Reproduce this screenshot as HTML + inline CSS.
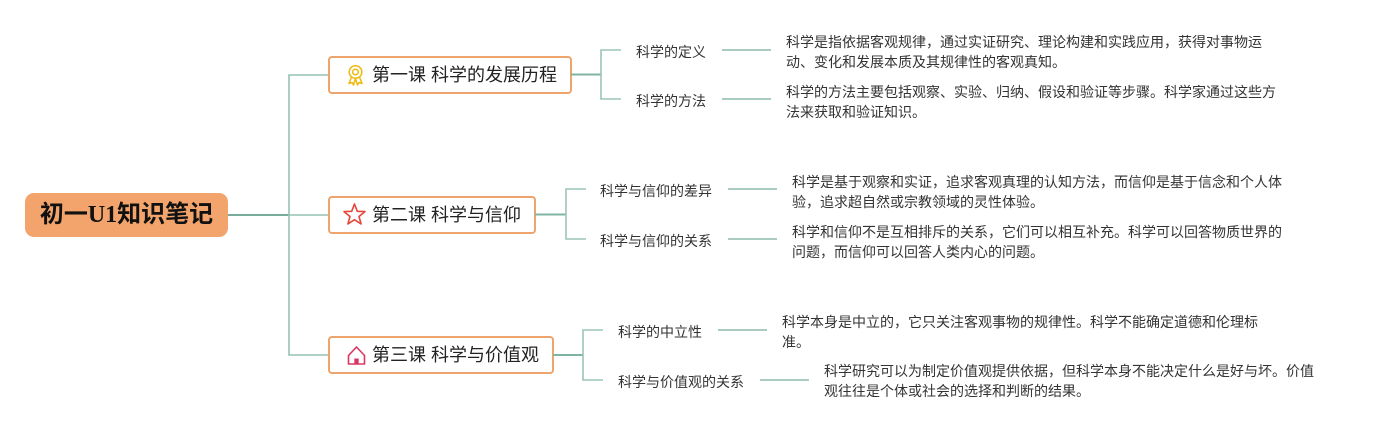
<!DOCTYPE html>
<html>
<head>
<meta charset="utf-8">
<style>
  html, body { margin:0; padding:0; background:#ffffff; }
  body { width:1384px; height:430px; position:relative; overflow:hidden;
         font-family:"Liberation Sans","Noto Sans CJK SC",sans-serif; }
  svg { position:absolute; left:0; top:0; }
  .t { position:absolute; white-space:nowrap; }
  .root { left:25px; top:193px; width:203px; height:44px; line-height:44px; text-align:center;
          font-family:"Liberation Serif","Noto Sans CJK SC",serif; font-weight:bold; font-size:24px; color:#111; }
  .box { font-size:18px; color:#222; height:36px; line-height:36px; left:372px; }
  .lab { font-size:14px; color:#333; height:20px; line-height:20px; }
  .desc { font-size:14px; color:#333; line-height:20px; }
</style>
</head>
<body>
<svg width="1384" height="430" viewBox="0 0 1384 430">
  <!-- root -->
  <rect x="25" y="193" width="203" height="44" rx="9" ry="9" fill="#f3a46c"/>
  <line x1="228" y1="215" x2="289" y2="215" stroke="#78ad9b" stroke-width="2"/>
  <!-- trunk -->
  <path d="M329 75 H289 V355 H329" fill="none" stroke="#96c2b2" stroke-width="1.6"/>
  <line x1="289" y1="215" x2="329" y2="215" stroke="#96c2b2" stroke-width="1.6"/>

  <!-- boxes -->
  <rect x="329" y="57" width="242" height="36" rx="3" fill="#fff" stroke="#eda46d" stroke-width="2"/>
  <rect x="329" y="197" width="206" height="36" rx="3" fill="#fff" stroke="#eda46d" stroke-width="2"/>
  <rect x="329" y="337" width="224" height="36" rx="3" fill="#fff" stroke="#eda46d" stroke-width="2"/>

  <!-- box1 branches -->
  <line x1="571" y1="74.5" x2="601" y2="74.5" stroke="#80b4a2" stroke-width="2"/>
  <path d="M621 50 H601 V99 H621" fill="none" stroke="#9cc5b6" stroke-width="1.6"/>
  <line x1="722" y1="50" x2="771" y2="50" stroke="#a9ccbf" stroke-width="2"/>
  <line x1="722" y1="99" x2="771" y2="99" stroke="#a9ccbf" stroke-width="2"/>

  <!-- box2 branches -->
  <line x1="535" y1="214.5" x2="566" y2="214.5" stroke="#80b4a2" stroke-width="2"/>
  <path d="M586 189 H566 V239 H586" fill="none" stroke="#9cc5b6" stroke-width="1.6"/>
  <line x1="728" y1="189" x2="777" y2="189" stroke="#a9ccbf" stroke-width="2"/>
  <line x1="728" y1="239" x2="777" y2="239" stroke="#a9ccbf" stroke-width="2"/>

  <!-- box3 branches -->
  <line x1="553" y1="355" x2="583" y2="355" stroke="#80b4a2" stroke-width="2"/>
  <path d="M603 330 H583 V380 H603" fill="none" stroke="#9cc5b6" stroke-width="1.6"/>
  <line x1="718" y1="330" x2="767" y2="330" stroke="#a9ccbf" stroke-width="2"/>
  <line x1="760" y1="380" x2="809" y2="380" stroke="#a9ccbf" stroke-width="2"/>

  <!-- medal icon -->
  <g fill="none" stroke="#f0b90f" stroke-width="1.5" stroke-linejoin="round">
    <circle cx="355.5" cy="72" r="6.3"/>
    <circle cx="355.5" cy="72" r="2.8"/>
    <path d="M351.5 77 L349 83.5 L352 82.5 L353.5 85 L355.5 78.5"/>
    <path d="M359.5 77 L362 83.5 L359 82.5 L357.5 85 L355.5 78.5"/>
  </g>
  <!-- star icon -->
  <polygon fill="none" stroke="#e5463b" stroke-width="1.6" stroke-linejoin="round"
    points="354.5,204 357.3,211.3 365,211.6 359,216.5 361.1,224 354.5,219.7 347.9,224 350,216.5 344,211.6 351.7,211.3"/>
  <!-- house icon -->
  <g stroke="#d83860" stroke-width="1.6" stroke-linejoin="round" fill="none">
    <path d="M348.5 355.5 L356.5 347 L364.5 355.5 V364 H348.5 Z"/>
  </g>
  <rect x="354.3" y="358.5" width="4.4" height="5.5" fill="#d83860"/>
</svg>

<div class="t root">初一U1知识笔记</div>

<div class="t box" style="top:57px;">第一课 科学的发展历程</div>
<div class="t box" style="top:197px;">第二课 科学与信仰</div>
<div class="t box" style="top:337px;">第三课 科学与价值观</div>

<div class="t lab" style="left:636px; top:42px;">科学的定义</div>
<div class="t lab" style="left:636px; top:91px;">科学的方法</div>
<div class="t lab" style="left:600px; top:181px;">科学与信仰的差异</div>
<div class="t lab" style="left:600px; top:231px;">科学与信仰的关系</div>
<div class="t lab" style="left:618px; top:322px;">科学的中立性</div>
<div class="t lab" style="left:618px; top:372px;">科学与价值观的关系</div>

<div class="t desc" style="left:786px; top:32px;">科学是指依据客观规律，通过实证研究、理论构建和实践应用，获得对事物运<br>动、变化和发展本质及其规律性的客观真知。</div>
<div class="t desc" style="left:786px; top:82px;">科学的方法主要包括观察、实验、归纳、假设和验证等步骤。科学家通过这些方<br>法来获取和验证知识。</div>
<div class="t desc" style="left:792px; top:172px;">科学是基于观察和实证，追求客观真理的认知方法，而信仰是基于信念和个人体<br>验，追求超自然或宗教领域的灵性体验。</div>
<div class="t desc" style="left:792px; top:222px;">科学和信仰不是互相排斥的关系，它们可以相互补充。科学可以回答物质世界的<br>问题，而信仰可以回答人类内心的问题。</div>
<div class="t desc" style="left:782px; top:312px;">科学本身是中立的，它只关注客观事物的规律性。科学不能确定道德和伦理标<br>准。</div>
<div class="t desc" style="left:824px; top:361px;">科学研究可以为制定价值观提供依据，但科学本身不能决定什么是好与坏。价值<br>观往往是个体或社会的选择和判断的结果。</div>
</body>
</html>
